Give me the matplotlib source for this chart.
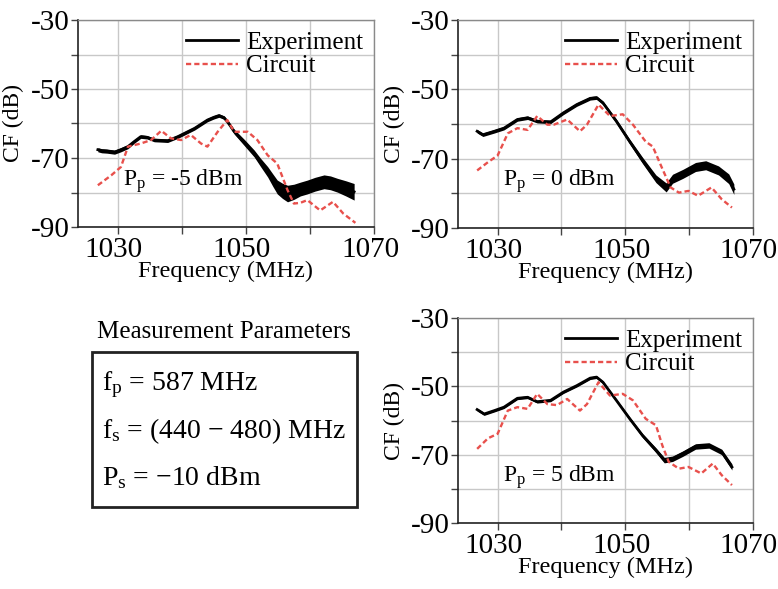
import matplotlib
matplotlib.use("Agg")
import matplotlib.pyplot as plt
from matplotlib.lines import Line2D
from matplotlib.transforms import ScaledTranslation
import numpy as np

plt.rcParams['font.family'] = ['Liberation Serif', 'DejaVu Serif']
plt.rcParams['mathtext.fontset'] = 'custom'
plt.rcParams['mathtext.rm'] = 'Liberation Serif'
plt.rcParams['mathtext.it'] = 'Liberation Serif:italic'

# ---------------- data ----------------
# Panel A: Pp = -5 dBm
a_exp_f = [1026.9, 1027.5, 1028.3, 1029.5, 1030.5, 1031.6, 1032.6, 1033.6, 1034.6, 1035.7, 1036.8, 1037.8,
           1039.4, 1040.7, 1042.0, 1043.0, 1044.0, 1045.0, 1045.8, 1046.6, 1047.4, 1048.2, 1049.8, 1051.3,
           1052.3, 1053.4, 1054.2, 1054.9, 1055.7, 1056.5, 1057.5, 1058.5, 1059.6, 1060.8, 1062.2, 1063.2,
           1064.3, 1065.6, 1066.9]
a_exp_v = [-67.6, -67.9, -68.0, -68.3, -67.6, -66.7, -65.2, -63.8, -64.0, -64.8, -64.9, -65.0,
           -63.8, -62.6, -61.4, -60.2, -59.0, -58.2, -57.7, -58.3, -60.2, -62.4, -65.6, -68.7,
           -71.3, -74.0, -76.4, -78.4, -79.5, -80.3, -79.8, -79.0, -78.4, -77.6, -76.9, -77.2,
           -77.9, -78.8, -79.8]
a_exp_s = [0.6, 0.6, 0.6, 0.6, 0.6, 0.6, 0.5, 0.5, 0.5, 0.5, 0.5, 0.5,
           0.5, 0.5, 0.5, 0.5, 0.5, 0.5, 0.5, 0.5, 0.6, 0.7, 0.9, 1.0,
           1.2, 1.5, 1.8, 2.0, 2.2, 2.4, 2.2, 2.0, 2.0, 2.0, 2.0, 2.0,
           2.0, 2.2, 2.4]
a_cir_f = [1026.9, 1029.0, 1030.5, 1031.6, 1033.6, 1035.2, 1036.8, 1038.3, 1039.9, 1041.4, 1043.0, 1044.0,
           1045.6, 1047.1, 1048.2, 1050.3, 1051.8, 1053.4, 1054.9, 1056.5, 1057.5, 1058.5, 1059.6, 1061.6,
           1063.6, 1065.2, 1067.1]
a_cir_v = [-77.9, -75.0, -72.6, -66.7, -65.8, -64.8, -62.1, -64.3, -64.8, -63.3, -65.8, -66.7,
           -62.4, -59.0, -62.4, -62.4, -64.8, -69.2, -71.6, -79.3, -83.2, -83.0, -82.2, -85.2,
           -82.7, -86.1, -88.8]

# Panel B: Pp = 0 dBm
b_exp_f = [1026.8, 1027.7, 1029.5, 1031.0, 1033.1, 1034.7, 1036.2, 1038.3, 1040.3, 1042.4, 1044.5, 1045.5,
           1046.5, 1048.6, 1050.7, 1052.7, 1054.8, 1056.4, 1057.4, 1059.0, 1061.0, 1062.6, 1064.6, 1066.2,
           1067.0]
b_exp_v = [-62.1, -63.1, -62.1, -61.2, -58.7, -58.2, -59.2, -59.4, -56.8, -54.4, -52.6, -52.4,
           -53.9, -59.2, -65.1, -70.5, -75.8, -78.3, -75.8, -74.4, -72.4, -71.9, -73.4, -75.8,
           -78.8]
b_exp_s = [0.5, 0.5, 0.5, 0.5, 0.5, 0.5, 0.5, 0.5, 0.5, 0.5, 0.5, 0.5,
           0.5, 0.6, 0.7, 0.9, 1.1, 1.3, 1.3, 1.3, 1.3, 1.3, 1.3, 1.4,
           1.5]
b_cir_f = [1026.8, 1028.5, 1030.0, 1031.6, 1033.1, 1034.7, 1036.2, 1037.8, 1038.8, 1040.9, 1042.9, 1044.0,
           1045.8, 1047.6, 1049.6, 1051.2, 1053.2, 1054.3, 1055.8, 1057.1, 1058.4, 1059.9, 1061.4, 1063.5,
           1065.1, 1066.7]
b_cir_v = [-73.4, -71.0, -69.1, -62.7, -61.2, -61.7, -57.7, -60.2, -60.2, -58.7, -62.1, -60.2,
           -54.4, -57.7, -57.2, -60.2, -65.1, -66.5, -72.9, -78.3, -79.8, -79.3, -80.7, -78.3,
           -81.7, -84.1]

# Panel C: Pp = 5 dBm
c_exp_f = [1026.8, 1027.9, 1029.5, 1031.0, 1033.1, 1034.7, 1036.2, 1038.3, 1040.3, 1042.4, 1044.5, 1045.5,
           1046.5, 1048.6, 1050.7, 1052.7, 1054.8, 1056.1, 1057.4, 1059.0, 1061.0, 1063.1, 1065.1, 1066.7]
c_exp_v = [-56.8, -58.1, -57.1, -56.1, -53.5, -53.2, -54.5, -54.1, -51.7, -49.8, -47.6, -47.3,
           -48.8, -54.1, -59.5, -64.4, -68.7, -71.6, -71.2, -69.7, -67.6, -67.3, -69.2, -73.6]
c_exp_s = [0.4, 0.4, 0.4, 0.4, 0.4, 0.4, 0.4, 0.4, 0.4, 0.4, 0.4, 0.4,
           0.4, 0.4, 0.5, 0.6, 0.7, 0.8, 0.8, 0.8, 0.8, 0.8, 0.8, 0.9]
c_cir_f = [1026.8, 1028.5, 1030.0, 1031.6, 1033.1, 1034.7, 1036.2, 1037.8, 1039.3, 1040.9, 1042.9, 1044.0,
           1045.8, 1047.6, 1049.6, 1051.2, 1053.2, 1054.8, 1055.8, 1056.8, 1058.4, 1059.9, 1061.9, 1063.7,
           1065.1, 1066.7]
c_cir_v = [-68.3, -65.2, -63.9, -57.1, -56.1, -56.6, -52.2, -55.2, -55.5, -53.7, -57.1, -55.2,
           -48.8, -52.7, -52.2, -54.1, -59.5, -61.4, -67.3, -72.1, -74.1, -73.6, -75.5, -72.6,
           -76.0, -78.9]

panel_labels = ["P$_\\mathrm{p}$ = -5 dBm", "P$_\\mathrm{p}$ = 0 dBm", "P$_\\mathrm{p}$ = 5 dBm"]
y_ticks = [-30, -50, -70, -90]
x_ticks = [1030, 1050, 1070]
param_lines = ["$\\mathrm{f}_\\mathrm{p}$ = 587 MHz",
               "$\\mathrm{f}_\\mathrm{s}$ = (440 \u2212 480) MHz",
               "$\\mathrm{P}_\\mathrm{s}$ = \u221210 dBm"]

RED = '#e8504c'

fig = plt.figure(figsize=(7.78, 5.89), dpi=100)
W, H = 778, 589

def px_axes(l, t, r, b):
    return fig.add_axes([l / W, 1 - b / H, (r - l) / W, (b - t) / H])

def style(ax, label, ylab_x):
    ax.set_xlim(1023.8, 1070)
    ax.set_ylim(-90, -30)
    ax.set_xticks(x_ticks)
    ax.set_xticklabels([str(v) for v in x_ticks])
    ax.set_xticks([1040, 1060], minor=True)
    ax.set_yticks(y_ticks)
    ax.set_yticklabels([str(v) for v in y_ticks])
    ax.set_yticks([-40, -60, -80], minor=True)
    ax.grid(True, which='both', color='#c8c8c8', lw=1.0)
    ax.set_axisbelow(True)
    ax.tick_params(which='both', direction='out', length=5, width=1.0, color='#444444',
                   labelsize=21, pad=1)
    ax.tick_params(axis='x', which='both', pad=2)
    shift = ScaledTranslation(-4 / 100, 0, fig.dpi_scale_trans)
    for lab in ax.get_xticklabels():
        lab.set_transform(lab.get_transform() + shift)
    for s in ['left', 'bottom']:
        ax.spines[s].set_color('#222222')
        ax.spines[s].set_linewidth(1.2)
    for s in ['top', 'right']:
        ax.spines[s].set_color('#8a8a8a')
        ax.spines[s].set_linewidth(1.0)
    ax.set_xlabel('Frequency (MHz)', fontsize=17.5)
    ax.set_ylabel('CF (dB)', fontsize=17)
    ax.xaxis.set_label_coords(0.5, -0.163)
    ax.yaxis.set_label_coords(ylab_x, 0.5)
    ax.text(1030.9, -77.9, label, fontsize=17, ha='left', va='baseline')
    handles = [Line2D([], [], color='black', lw=2.0),
               Line2D([], [], color=RED, lw=1.7, ls=(0, (2.2, 1.3)))]
    ax.legend(handles, ['Experiment', 'Circuit'], loc='upper right', frameon=False,
              fontsize=18, handlelength=2.1, handletextpad=0.3, labelspacing=0.05,
              borderaxespad=0.2, borderpad=0.25)

def draw(ax, ef, ev, es, cf, cv, label, ylab_x):
    ef = np.array(ef); ev = np.array(ev); es = np.array(es)
    ax.fill_between(ef, ev - es, ev + es, color='black', lw=0, zorder=3)
    ax.plot(ef, ev, color='black', lw=2.0, zorder=4)
    ax.plot(cf, cv, color=RED, lw=1.7, ls=(0, (2.2, 1.3)), zorder=5)
    style(ax, label, ylab_x)

ax1 = px_axes(78, 20, 374, 227)
draw(ax1, a_exp_f, a_exp_v, a_exp_s, a_cir_f, a_cir_v, panel_labels[0], -0.182)
ax2 = px_axes(458, 20, 753, 228)
draw(ax2, b_exp_f, b_exp_v, b_exp_s, b_cir_f, b_cir_v, panel_labels[1], -0.178)
ax3 = px_axes(458, 318, 753, 523)
draw(ax3, c_exp_f, c_exp_v, c_exp_s, c_cir_f, c_cir_v, panel_labels[2], -0.178)

# Measurement parameters box
fig.text(224 / W, 1 - 338 / H, 'Measurement Parameters', fontsize=18, ha='center', va='baseline')
fig.add_artist(plt.Rectangle((92 / W, 1 - 507 / H), (357 - 92) / W, (507 - 352) / H,
                             transform=fig.transFigure, fill=False, ec='#222222', lw=2.0))
for txt, yb in zip(param_lines, [390, 438, 485]):
    fig.text(102 / W, 1 - yb / H, txt, fontsize=20, ha='left', va='baseline')

fig.savefig('out.png', dpi=100)
